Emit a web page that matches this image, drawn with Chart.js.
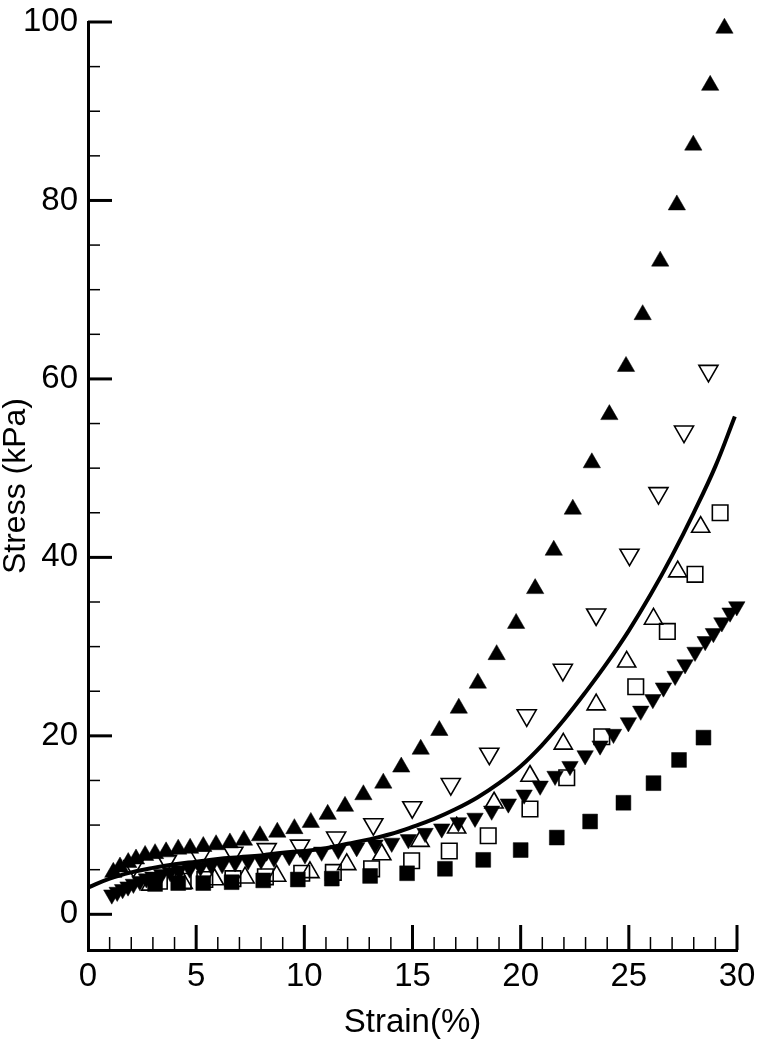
<!DOCTYPE html>
<html><head><meta charset="utf-8">
<script src="https://cdn.jsdelivr.net/npm/chart.js@4.4.1/dist/chart.umd.min.js"></script>
<style>html,body{margin:0;padding:0;background:#fff}</style>
</head><body>
<canvas id="c" width="759" height="1053"></canvas>
<script>
// ---- data ----
const xTicks = [0, 5, 10, 15, 20, 25, 30];
const yTicks = [0, 20, 40, 60, 80, 100];
const xMinorTicks = [1,2,3,4,6,7,8,9,11,12,13,14,16,17,18,19,21,22,23,24,26,27,28,29];
const yMinorTicks = [5,10,15,25,30,35,45,50,55,65,70,75,85,90,95];

const upFilledX = [1.17,1.48,1.86,2.22,2.64,3.10,3.61,4.17,4.72,5.33,5.92,6.56,7.21,7.95,8.75,9.54,10.30,11.08,11.88,12.73,13.65,14.48,15.38,16.24,17.14,18.02,18.89,19.79,20.67,21.53,22.41,23.29,24.10,24.87,25.64,26.45,27.22,27.98,28.76,29.42];
const upFilledY = [4.7,5.3,5.8,6.2,6.6,6.8,7.0,7.3,7.4,7.6,7.8,8.0,8.3,8.8,9.2,9.6,10.3,11.2,12.1,13.4,14.7,16.5,18.5,20.6,23.1,25.9,29.1,32.6,36.5,40.8,45.4,50.6,56.0,61.4,67.2,73.2,79.5,86.2,92.9,99.3];

const downOpenX = [2.1,3.65,5.18,6.72,8.26,9.8,11.47,13.19,14.99,16.77,18.55,20.28,21.95,23.49,25.03,26.37,27.55,28.68];
const downOpenY = [5.4,6.0,6.5,6.9,7.3,7.7,8.6,10.1,12.0,14.6,18.0,22.3,27.4,33.6,40.3,47.2,54.1,60.9];

const upOpenX = [2.9,4.4,5.85,7.26,8.72,10.26,11.96,13.58,15.35,17.04,18.77,20.43,21.97,23.49,24.9,26.14,27.26,28.32];
const upOpenY = [3.3,3.5,3.9,4.1,4.3,4.7,5.6,6.7,8.2,9.7,12.5,15.5,19.1,23.5,28.3,33.1,38.4,43.4];

const squareOpenX = [3.3,4.4,5.4,6.7,8.2,9.88,11.34,13.11,14.96,16.7,18.5,20.43,22.13,23.75,25.32,26.78,28.06,29.22];
const squareOpenY = [3.7,3.7,3.9,4.0,4.2,4.6,4.7,5.1,6.0,7.1,8.8,11.8,15.3,19.9,25.5,31.7,38.1,45.0];

const squareFilledX = [3.1,4.17,5.33,6.64,8.1,9.7,11.27,13.04,14.75,16.5,18.27,20.0,21.67,23.21,24.75,26.14,27.32,28.45];
const squareFilledY = [3.4,3.5,3.5,3.6,3.8,3.9,4.0,4.3,4.6,5.1,6.1,7.2,8.6,10.4,12.5,14.7,17.3,19.8];

const downFilledX = [1.1,1.35,1.6,1.85,2.1,2.4,2.7,3.0,3.4,3.8,4.2,4.7,5.2,5.7,6.2,6.8,7.4,8.0,8.6,9.3,10.03,10.8,11.57,12.42,13.27,14.04,14.81,15.58,16.35,17.12,17.89,18.66,19.43,20.16,20.90,21.59,22.28,22.98,23.67,24.29,24.98,25.55,26.11,26.60,27.14,27.60,28.06,28.53,28.91,29.30,29.68,29.99];
const downFilledY = [2.2,2.5,2.8,3.1,3.4,3.7,4.0,4.2,4.5,4.7,4.9,5.1,5.3,5.5,5.6,5.8,6.0,6.1,6.3,6.5,6.7,7.0,7.2,7.5,7.8,8.0,8.4,9.1,9.6,10.3,10.8,11.6,12.4,13.4,14.4,15.5,16.6,17.8,18.9,20.2,21.5,22.8,24.1,25.4,26.7,28.0,29.4,30.6,31.5,32.7,33.8,34.5];

const fitX = [0,1,2,3,4,5,6,7,8,9,10,11,12,13,14,15,16,17,18,19,20,21,22,23,24,25,26,27,28,29,29.9];
const fitY = [3.0,4.0,4.7,5.2,5.6,5.9,6.2,6.4,6.6,6.9,7.1,7.4,7.9,8.4,9.0,9.8,10.7,11.8,13.1,14.7,16.6,19.0,21.8,24.9,28.2,31.8,35.8,40.2,45.0,50.2,55.8];

const pts = (xs, ys) => xs.map((x, i) => ({x: x, y: ys[i]}));
const FONT = "'Liberation Sans', Arial, Helvetica, sans-serif";

const marker = (label, xs, ys, style, rot, filled, r, order) => ({
  type: 'scatter', label: label, data: pts(xs, ys), showLine: false, clip: false,
  pointStyle: style, rotation: rot, radius: r, pointRadius: r,
  pointBackgroundColor: filled ? '#000' : 'rgba(0,0,0,0)',
  pointBorderColor: '#000', pointBorderWidth: filled ? 0.5 : 1.6, order: order
});

const inwardTicks = {
  id: 'inwardTicks',
  afterDraw(chart) {
    const ctx = chart.ctx, xs = chart.scales.x, ys = chart.scales.y;
    const a = chart.chartArea;
    ctx.save();
    ctx.strokeStyle = '#000';
    ctx.lineCap = 'butt';
    ctx.lineWidth = 3;
    xTicks.forEach(v => { if (v === 0) return; const p = xs.getPixelForValue(v);
      ctx.beginPath(); ctx.moveTo(p, a.bottom); ctx.lineTo(p, a.bottom - 25); ctx.stroke(); });
    yTicks.forEach(v => { const p = ys.getPixelForValue(v);
      ctx.beginPath(); ctx.moveTo(a.left, p); ctx.lineTo(a.left + 24, p); ctx.stroke(); });
    ctx.lineWidth = 1.5;
    xMinorTicks.forEach(v => { const p = xs.getPixelForValue(v);
      ctx.beginPath(); ctx.moveTo(p, a.bottom); ctx.lineTo(p, a.bottom - 13); ctx.stroke(); });
    yMinorTicks.forEach(v => { const p = ys.getPixelForValue(v);
      ctx.beginPath(); ctx.moveTo(a.left, p); ctx.lineTo(a.left + 12, p); ctx.stroke(); });
    ctx.restore();
  }
};

new Chart(document.getElementById('c'), {
  data: {
    datasets: [
      { type: 'line', label: 'Fit', data: pts(fitX, fitY), borderColor: '#000', borderWidth: 4,
        pointRadius: 0, fill: false, tension: 0.4, order: 0 },
      marker('Sample A', upFilledX, upFilledY, 'triangle', 0, true, 10, 1),
      marker('Sample B', downOpenX, downOpenY, 'triangle', 180, false, 11, 2),
      marker('Sample C', upOpenX, upOpenY, 'triangle', 0, false, 10.5, 3),
      marker('Sample D', squareOpenX, squareOpenY, 'rect', 0, false, 11, 4),
      marker('Sample E', downFilledX, downFilledY, 'triangle', 180, true, 9.5, 5),
      marker('Sample F', squareFilledX, squareFilledY, 'rect', 0, true, 10.5, 6)
    ]
  },
  options: {
    responsive: false, animation: false, devicePixelRatio: 1,
    layout: { padding: { left: 0, right: 22, top: 22, bottom: 0 } },
    plugins: { legend: { display: false }, tooltip: { enabled: false } },
    scales: {
      x: {
        type: 'linear', min: 0, max: 30,
        afterFit: s => { s.height = 103; s.paddingLeft = 0; s.paddingRight = 0; },
        afterBuildTicks: s => { s.ticks = xTicks.map(v => ({ value: v })); },
        grid: { display: false, drawTicks: false, tickLength: 0 },
        border: { display: true, color: '#000', width: 3 },
        ticks: { color: '#000', font: { family: FONT, size: 33 }, padding: 7, maxRotation: 0 },
        title: { display: true, text: 'Strain(%)', color: '#000', font: { family: FONT, size: 33 }, padding: { top: 0, bottom: 10 } }
      },
      y: {
        type: 'linear', min: -4, max: 100,
        afterFit: s => { s.width = 88; s.paddingTop = 0; s.paddingBottom = 0; },
        afterBuildTicks: s => { s.ticks = yTicks.map(v => ({ value: v })); },
        grid: { display: false, drawTicks: false, tickLength: 0 },
        border: { display: true, color: '#000', width: 3 },
        ticks: { color: '#000', font: { family: FONT, size: 33 }, padding: 10 },
        title: { display: true, text: 'Stress (kPa)', color: '#000', font: { family: FONT, size: 32, lineHeight: 1.0 }, padding: { top: 0, bottom: 0 } }
      }
    }
  },
  plugins: [inwardTicks]
});
</script>
</body></html>
